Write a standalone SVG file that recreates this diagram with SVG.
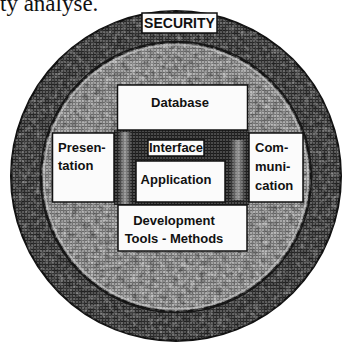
<svg xmlns="http://www.w3.org/2000/svg" width="346" height="342" viewBox="0 0 346 342">
  <style>
    .box { fill: #fbfbfb; stroke: #111; stroke-width: 1.5; }
    .lbl { font-family: "Liberation Sans", Arial, sans-serif; font-weight: bold; font-size: 13px; fill: #111; }
    .mid { text-anchor: middle; }
    .caption { font-family: "Liberation Serif", "Times New Roman", serif; font-size: 23px; fill: #111; }
  </style>
  <defs>
    <!-- halftone screens for the three shading levels -->
    <pattern id="screenOuter" width="3" height="3" patternUnits="userSpaceOnUse">
      <rect width="3" height="3" fill="#5c5c5c"/>
      <rect width="3" height="1" fill="#262626"/>
      <rect width="1" height="3" fill="#303030"/>
    </pattern>
    <pattern id="screenInner" width="3" height="3" patternUnits="userSpaceOnUse">
      <rect width="3" height="3" fill="#a6a6a6"/>
      <rect width="3" height="1" fill="#6a6a6a"/>
      <rect width="1" height="3" fill="#787878"/>
    </pattern>
    <pattern id="screenCore" width="3" height="3" patternUnits="userSpaceOnUse">
      <rect width="3" height="3" fill="#4a4a4a"/>
      <rect width="3" height="1" fill="#1a1a1a"/>
      <rect width="1" height="3" fill="#242424"/>
    </pattern>
    <!-- fine light and dark grain over the screened areas -->
    <filter id="mottle" x="0" y="0" width="100%" height="100%">
      <feTurbulence type="fractalNoise" baseFrequency="0.22" numOctaves="3" seed="7"/>
      <feColorMatrix type="matrix" values="0 0 0 0 1  0 0 0 0 1  0 0 0 0 1  2.4 0 0 0 -1.1"/>
      <feComposite in2="SourceGraphic" operator="in"/>
    </filter>
    <filter id="mottleDark" x="0" y="0" width="100%" height="100%">
      <feTurbulence type="fractalNoise" baseFrequency="0.18" numOctaves="3" seed="3"/>
      <feColorMatrix type="matrix" values="0 0 0 0 0  0 0 0 0 0  0 0 0 0 0  2.4 0 0 0 -1.1"/>
      <feComposite in2="SourceGraphic" operator="in"/>
    </filter>
    <linearGradient id="streak" x1="0" y1="0" x2="1" y2="0">
      <stop offset="0" stop-color="#fff" stop-opacity="0"/>
      <stop offset="0.5" stop-color="#fff" stop-opacity="0.5"/>
      <stop offset="1" stop-color="#fff" stop-opacity="0"/>
    </linearGradient>
  </defs>

  <text class="caption" x="0" y="11">ty analyse.</text>

  <!-- security ring -->
  <g id="security-ring">
    <circle cx="176" cy="176" r="165" fill="url(#screenOuter)" stroke="#111" stroke-width="2"/>
    <circle cx="176" cy="176" r="165" fill="#fff" opacity="0.35" filter="url(#mottle)"/>
    <circle cx="176" cy="176" r="165" fill="#000" opacity="0.3" filter="url(#mottleDark)"/>
  </g>

  <!-- inner disk -->
  <g id="inner-disk">
    <circle cx="176" cy="177" r="135" fill="url(#screenInner)" stroke="#161616" stroke-width="2.5"/>
    <circle cx="176" cy="177" r="135" fill="#fff" opacity="0.45" filter="url(#mottle)"/>
    <circle cx="176" cy="177" r="135" fill="#000" opacity="0.35" filter="url(#mottleDark)"/>
    <circle cx="176" cy="177" r="132" fill="none" stroke="#d0d0d0" stroke-width="1.5" opacity="0.6"/>
  </g>

  <!-- interface core -->
  <g id="core">
    <rect x="114" y="130" width="135" height="75" fill="url(#screenCore)"/>
    <rect x="118" y="132" width="14" height="72" fill="url(#streak)"/>
    <rect x="230" y="140" width="16" height="60" fill="url(#streak)"/>
  </g>

  <g id="security">
    <rect class="box" x="142" y="13" width="75" height="20"/>
    <text class="lbl mid" x="179.5" y="28" style="font-size:14px">SECURITY</text>
  </g>

  <g id="database">
    <rect class="box" x="117.5" y="85" width="130" height="45"/>
    <text class="lbl mid" x="180" y="107">Database</text>
  </g>

  <g id="presentation">
    <rect class="box" x="52.5" y="133" width="61.5" height="69"/>
    <text class="lbl" x="58" y="152">Presen-</text>
    <text class="lbl" x="58" y="170">tation</text>
  </g>

  <g id="communication">
    <rect class="box" x="249" y="133" width="54" height="69"/>
    <text class="lbl" x="255" y="152">Com-</text>
    <text class="lbl" x="255" y="171">muni-</text>
    <text class="lbl" x="255" y="190">cation</text>
  </g>

  <g id="interface">
    <rect class="box" x="148" y="140" width="56" height="16"/>
    <text class="lbl mid" x="176" y="152">Interface</text>
  </g>

  <g id="application">
    <rect class="box" x="136" y="161" width="89" height="41"/>
    <text class="lbl mid" x="176" y="184">Application</text>
  </g>

  <g id="development">
    <rect class="box" x="118" y="205" width="129" height="46"/>
    <text class="lbl mid" x="174" y="225">Development</text>
    <text class="lbl mid" x="174" y="243">Tools - Methods</text>
  </g>
</svg>
